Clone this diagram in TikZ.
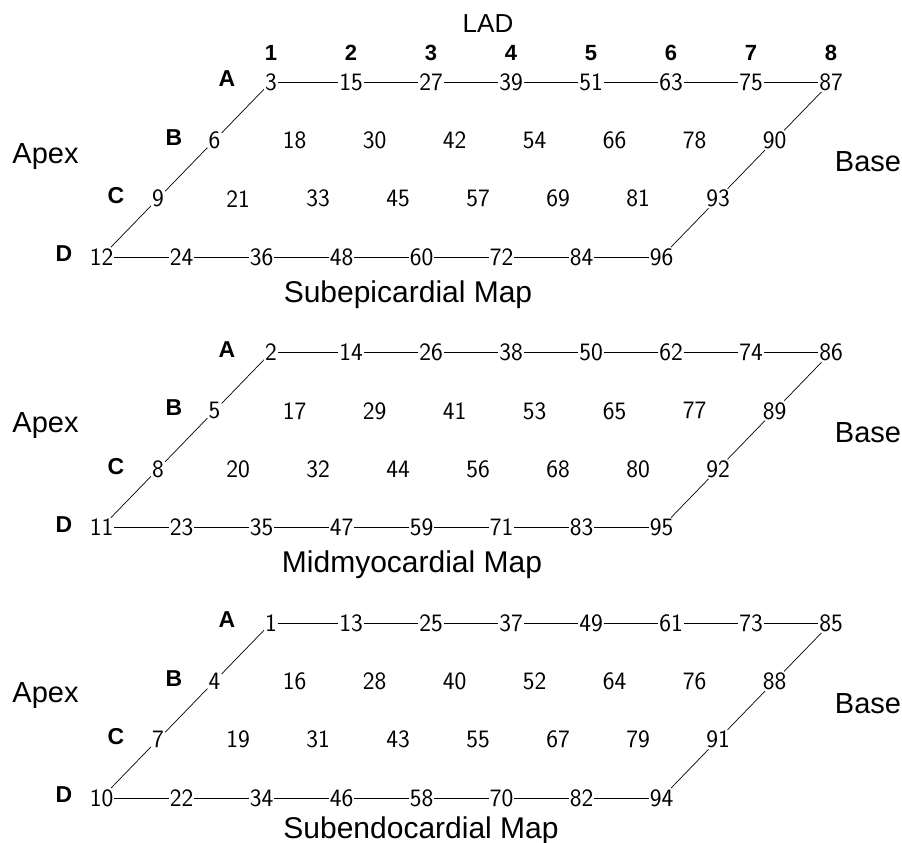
\documentclass[tikz,border=0pt]{standalone}
\usepackage{fontspec}
\setmainfont{Liberation Sans}
\begin{document}
\begin{tikzpicture}[x=1pt,y=-1pt,
  num/.style={font=\sffamily\fontsize{25}{25}\selectfont, inner sep=1.2pt, outer sep=0pt},
  rowlab/.style={font=\bfseries\fontsize{23}{23}\selectfont, inner sep=0pt},
  collab/.style={font=\bfseries\fontsize{22}{22}\selectfont, inner sep=0pt},
  side/.style={font=\fontsize{29}{29}\selectfont, inner sep=0pt, anchor=base},
  maptitle/.style={font=\fontsize{30}{30}\selectfont, inner sep=0pt, anchor=base},
  link/.style={line width=0.7pt}]
\useasboundingbox (0,0) rectangle (902,843);

% top labels
\node[font=\fontsize{26}{26}\selectfont, inner sep=0pt, anchor=base] (lad) at (488,33) {LAD};
\foreach \j in {0,...,7}{
  \pgfmathtruncatemacro\col{\j+1}
  \node[collab] (col\col) at ({271+80*\j},53) {\col};
}

\foreach \k in {0,1,2}{
  \foreach \i in {0,...,3}{
    \foreach \j in {0,...,7}{
      \pgfmathtruncatemacro\val{12*\j+3*\i+3-\k}
      \node[num] (n\k-\i-\j) at ({271+80*\j-56.5*\i},{82+270.5*\k+58.3*\i}) {\val};
    }
  }
  \foreach \i/\L/\lx in {0/A/227,1/B/174,2/C/116,3/D/64}{
    \node[rowlab] (L\k\L) at (\lx,{79+270.5*\k+58.3*\i}) {\L};
  }
  % horizontal connectors
  \foreach \j [evaluate=\j as \jn using {int(\j+1)}] in {0,...,6}{
    \draw[link] (n\k-0-\j) -- (n\k-0-\jn);
    \draw[link] (n\k-3-\j) -- (n\k-3-\jn);
  }
  % slanted sides
  \foreach \i [evaluate=\i as \in using {int(\i+1)}] in {0,1,2}{
    \draw[link] (n\k-\i-0) -- (n\k-\in-0);
    \draw[link] (n\k-\i-7) -- (n\k-\in-7);
  }
  \node[side] (apex\k) at (45.5,{163+269.5*\k}) {Apex};
  \node[side] (base\k) at (868,{171+271*\k}) {Base};
}

\node[maptitle] (t0) at (408,302) {Subepicardial Map};
\node[maptitle] (t1) at (412,572) {Midmyocardial Map};
\node[maptitle] (t2) at (421,838) {Subendocardial Map};
\end{tikzpicture}
\end{document}
